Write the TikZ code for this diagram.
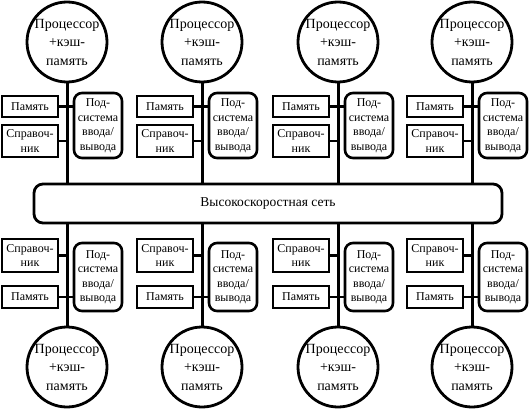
\documentclass[tikz,border=0pt]{standalone}
\usepackage{fontspec}
\setmainfont{Liberation Serif}
\begin{document}
\begin{tikzpicture}[x=1pt,y=-1pt,
  proc/.style={circle, draw, line width=2.8pt, minimum size=80pt, inner sep=0pt, align=center, font=\fontsize{14}{18.5}\selectfont},
  membox/.style={draw, line width=2.6pt, minimum width=56pt, inner sep=1pt, align=center, font=\fontsize{12}{14.5}\selectfont},
  iobox/.style={draw, rounded corners=8pt, line width=2.6pt, minimum width=48pt, inner sep=0.5pt, align=center, font=\fontsize{12}{14.5}\selectfont},
  busbox/.style={draw, rounded corners=9pt, line width=2.8pt, minimum width=468pt, minimum height=39pt, font=\fontsize{13.5}{16}\selectfont},
  wire/.style={line width=3pt},
  hwire/.style={line width=2.6pt}]
\useasboundingbox (0,0) rectangle (529,409);
\node[busbox] (bus) at (268,203.5) {Высокоскоростная сеть};
\foreach \i/\x in {1/67,2/202,3/338,4/472}{
  % top
  \node[proc] (ct\i) at (\x,42) {Процессор\\+кэш-\\память};
  \node[membox, minimum height=21pt] (mt\i) at (\x-37,106.5) {Память};
  \node[membox, minimum height=32pt] (dt\i) at (\x-37,141) {Справоч-\\ник};
  \node[iobox, minimum height=65pt] (it\i) at (\x+31,125.5) {Под-\\система\\ввода/\\вывода};
  \draw[wire] (ct\i.south) -- (ct\i.south |- bus.north);
  \draw[hwire] (mt\i.east) -- (mt\i.east -| it\i.west);
  \draw[hwire] (dt\i.east) -- (dt\i.east -| ct\i.south);
  % bottom
  \node[proc] (cb\i) at (\x,367) {Процессор\\+кэш-\\память};
  \node[membox, minimum height=33pt] (db\i) at (\x-37,255.5) {Справоч-\\ник};
  \node[membox, minimum height=22pt] (mb\i) at (\x-37,297) {Память};
  \node[iobox, minimum height=68pt] (ib\i) at (\x+31,277) {Под-\\система\\ввода/\\вывода};
  \draw[wire] (cb\i.north) -- (cb\i.north |- bus.south);
  \draw[hwire] (db\i.east) -- (db\i.east -| cb\i.north);
  \draw[hwire] (mb\i.east) -- (mb\i.east -| ib\i.west);
}
\end{tikzpicture}
\end{document}
